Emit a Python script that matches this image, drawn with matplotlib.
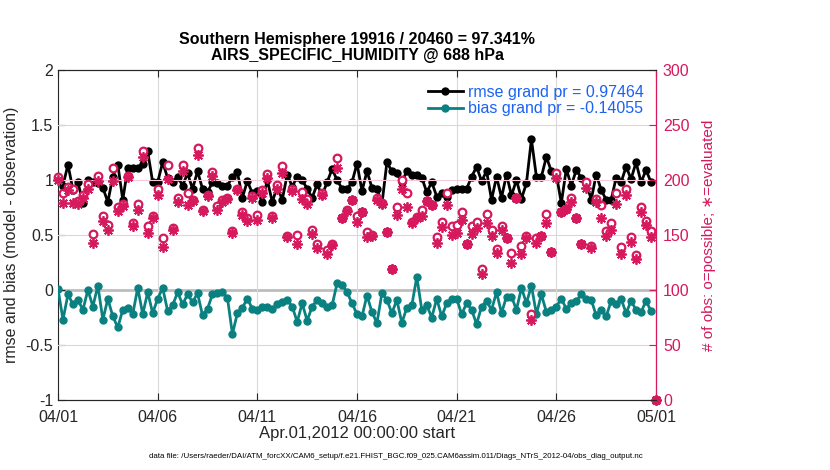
import numpy as np
import pandas as pd
import matplotlib
matplotlib.use('Agg')
import matplotlib.pyplot as plt
import matplotlib.dates as mdates

plt.rcParams['font.family'] = ['Liberation Sans', 'DejaVu Sans']
plt.rcParams['axes.unicode_minus'] = False

# six-hourly bins, 04/01 00Z .. 05/01 00Z
times = pd.date_range('2012-04-01', periods=121, freq='6h')

rmse = [1.02, 0.95, 1.14, 0.91, 0.98, 0.79, 1.00, 0.98, 0.97, 0.93, 0.80, 1.03, 1.14, 0.82, 1.11, 1.11, 1.11, 1.15, 1.26, 0.98,
        0.98, 1.16, 1.02, 0.98, 1.03, 0.95, 1.06, 0.92, 1.08, 0.92, 0.89, 0.98, 0.97, 0.95, 0.95, 1.03, 1.07, 0.84, 0.99, 0.88,
        0.90, 0.80, 1.00, 0.80, 0.94, 0.82, 1.05, 0.94, 1.03, 1.00, 0.92, 0.84, 0.96, 0.86, 0.98, 1.10, 1.00, 0.92, 0.92, 0.98,
        1.15, 0.90, 1.08, 0.93, 0.92, 0.78, 1.16, 1.08, 1.06, 0.98, 1.08, 1.05, 1.05, 1.02, 0.89, 0.98, 0.85, 0.88, 0.85, 0.91,
        0.92, 0.92, 0.92, 1.03, 1.12, 0.99, 1.08, 0.82, 1.03, 0.84, 1.05, 0.86, 1.00, 0.83, 0.97, 1.37, 1.03, 1.03, 1.21, 1.08,
        1.05, 0.79, 1.10, 0.95, 1.09, 1.02, 0.98, 0.82, 1.05, 0.91, 0.82, 0.82, 1.02, 0.98, 1.12, 1.01, 1.16, 0.98, 1.09, 0.98,
        np.nan]

bias = [0.01, -0.27, -0.04, -0.13, -0.09, -0.18, 0.00, -0.15, 0.04, -0.27, -0.08, -0.24, -0.34, -0.18, -0.16, -0.22, 0.02, -0.22, -0.02, -0.21,
        -0.08, 0.02, -0.19, -0.14, -0.02, -0.13, -0.04, -0.11, -0.03, -0.23, -0.17, -0.04, -0.03, -0.02, -0.07, -0.40, -0.21, -0.16, -0.08, -0.17,
        -0.18, -0.15, -0.15, -0.17, -0.13, -0.11, -0.09, -0.15, -0.29, -0.12, -0.28, -0.15, -0.09, -0.12, -0.15, -0.14, 0.06, 0.05, -0.02, -0.12,
        -0.22, -0.24, -0.05, -0.20, -0.30, -0.03, -0.09, -0.21, -0.09, -0.30, -0.16, -0.14, 0.12, -0.18, -0.14, -0.25, -0.08, -0.24, -0.12, -0.08,
        -0.08, -0.22, -0.12, -0.18, -0.31, -0.15, -0.10, -0.18, -0.02, -0.21, -0.06, -0.06, -0.18, 0.02, -0.12, 0.04, -0.22, -0.04, -0.20, -0.18,
        -0.15, -0.08, -0.17, -0.12, -0.10, -0.04, -0.08, -0.09, -0.23, -0.18, -0.24, -0.10, -0.13, -0.08, -0.21, -0.10, -0.18, -0.20, -0.10, -0.19,
        np.nan]

n_possible = [203, 188, 194, 192, 181, 186, 196, 151, 204, 167, 159, 211, 175, 178, 204, 161, 178, 226, 158, 167,
              192, 147, 214, 156, 184, 214, 188, 182, 229, 173, 186, 207, 176, 182, 184, 154, 192, 171, 165, 185,
              168, 191, 205, 167, 195, 213, 149, 192, 150, 189, 183, 155, 142, 188, 136, 142, 220, 165, 173, 182,
              167, 171, 153, 150, 184, 179, 153, 119, 175, 200, 188, 162, 166, 173, 181, 177, 148, 162, 188, 158,
              159, 171, 142, 158, 162, 119, 169, 155, 137, 158, 147, 134, 184, 140, 149, 78, 147, 149, 169, 135,
              206, 171, 174, 184, 165, 142, 198, 140, 183, 177, 154, 161, 188, 139, 192, 148, 132, 175, 163, 154,
              0]

n_used = [200, 179, 191, 179, 178, 184, 192, 143, 199, 163, 155, 199, 172, 176, 203, 158, 173, 221, 152, 165,
          186, 139, 201, 155, 180, 208, 177, 181, 223, 172, 185, 204, 173, 180, 183, 152, 191, 168, 163, 184,
          164, 188, 202, 165, 192, 206, 148, 190, 142, 183, 178, 151, 138, 186, 133, 141, 211, 165, 172, 182,
          162, 171, 148, 149, 182, 178, 153, 119, 168, 192, 175, 161, 165, 167, 181, 177, 143, 157, 177, 150,
          152, 164, 142, 151, 156, 115, 161, 149, 134, 155, 147, 125, 184, 133, 147, 73, 143, 149, 161, 135,
          202, 171, 174, 180, 165, 142, 193, 138, 180, 165, 149, 155, 178, 133, 186, 144, 128, 171, 159, 148,
          0]

rmse_label = 'rmse grand pr = 0.97464'
bias_label = 'bias grand pr = -0.14055'
title = 'Southern Hemisphere 19916 / 20460 = 97.341%\nAIRS_SPECIFIC_HUMIDITY @ 688 hPa'
datafile = 'data file: /Users/raeder/DAI/ATM_forcXX/CAM6_setup/f.e21.FHIST_BGC.f09_025.CAM6assim.011/Diags_NTrS_2012-04/obs_diag_output.nc'

dark = '#262626'
pink = '#d6185c'
teal = '#0b8080'
blue = '#1a62f5'

fig = plt.figure(figsize=(8.3, 4.7), dpi=100)
ax = fig.add_axes([58/830, 70/470, 598/830, 330/470])
ax2 = ax.twinx()

# right-axis (obs count) grid in pink, x grid in gray
for v in [50, 150, 200, 250]:
    ax2.axhline(v, color='#f6c9d8', lw=0.8, zorder=0)
ax.grid(axis='x', color='#dadada', lw=0.8)
ax.axhline(0, color='#bdbdbd', lw=2, zorder=1)

ax.plot(times, rmse, '-o', color='black', lw=2, ms=5, label=rmse_label, zorder=3)
ax.plot(times, bias, '-o', color=teal, lw=2, ms=5, label=bias_label, zorder=3)

ax2.plot(times, n_possible, 'o', mfc='white', mec=pink, mew=1.6, ms=5.5, ls='none', clip_on=False)
ax2.plot(times, n_used, marker=(8, 2, 0), color=pink, mew=1.3, ms=7.5, ls='none', clip_on=False)

ax.set_xlim(pd.Timestamp('2012-04-01'), pd.Timestamp('2012-05-01'))
ax.set_ylim(-1, 2)
ax2.set_ylim(0, 300)
ax.set_yticks([-1, -0.5, 0, 0.5, 1, 1.5, 2])
ax.set_yticklabels(['-1', '-0.5', '0', '0.5', '1', '1.5', '2'])
ax2.set_yticks([0, 50, 100, 150, 200, 250, 300])

ax.xaxis.set_major_locator(mdates.DayLocator(bymonthday=[1, 6, 11, 16, 21, 26]))
ax.xaxis.set_major_formatter(mdates.DateFormatter('%m/%d'))

ax.tick_params(axis='both', direction='in', length=5, labelsize=11.5, colors=dark, top=True, right=False)
ax.tick_params(axis='x', pad=7)
ax2.tick_params(axis='y', direction='in', length=5, labelsize=11.5, colors=pink, pad=5)
for s in ['left', 'top', 'bottom']:
    ax.spines[s].set_color(dark)
ax2.spines['right'].set_color(pink)
ax2.spines['left'].set_visible(False)
ax2.spines['top'].set_color(dark)
ax2.spines['bottom'].set_color(dark)

ax.set_ylabel('rmse and bias (model - observation)', fontsize=11.5, color=dark)
ax.yaxis.set_label_coords(-0.065, 0.5)
ax.set_xlabel('Apr.01,2012 00:00:00 start', fontsize=12, color=dark)
ax.xaxis.set_label_coords(0.5, -0.08)
ax2.set_ylabel('# of obs: o=possible; \u2217=evaluated', fontsize=11, color=pink)
ax2.yaxis.set_label_coords(1.077, 0.5)

ax.set_title(title, fontsize=11.5, fontweight='bold', color='black', pad=7, linespacing=1.1)

leg = ax.legend(loc='upper right', bbox_to_anchor=(0.99, 0.975), frameon=False, fontsize=11.5,
                handlelength=2.2, handletextpad=0.3, labelspacing=0.1, borderaxespad=0)
for t in leg.get_texts():
    t.set_color(blue)

fig.text(396/830, 1 - 456/470, datafile, fontsize=5.7, ha='center', va='center', color='black')

fig.savefig('out.png', dpi=100)
